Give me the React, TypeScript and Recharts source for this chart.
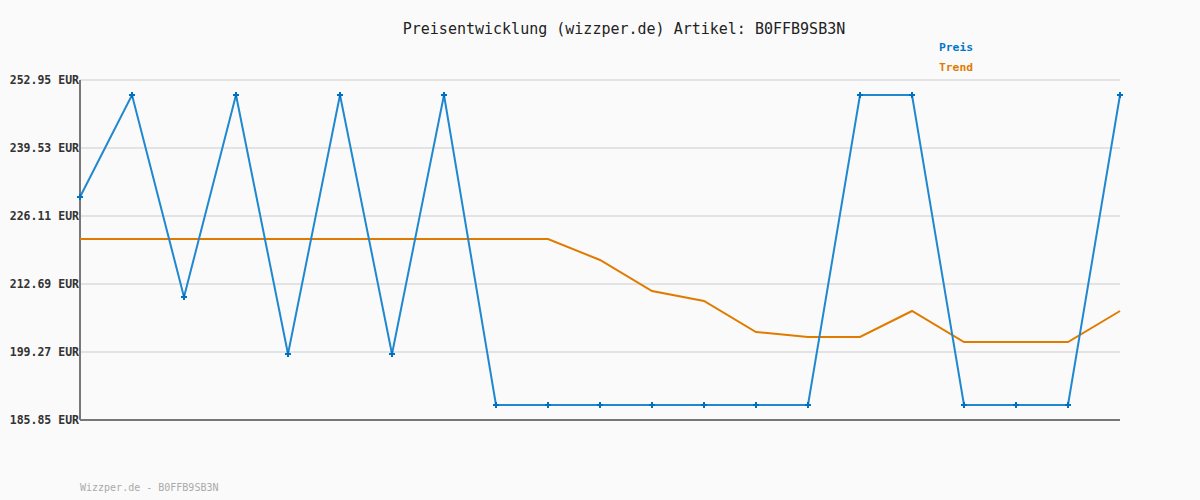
import { CartesianGrid, Line, LineChart, ReferenceLine, XAxis, YAxis } from "recharts";

const indices = [0, 1, 2, 3, 4, 5, 6, 7, 8, 9, 10, 11, 12, 13, 14, 15, 16, 17, 18, 19, 20];
const preis = [
  229.86, 249.99, 210.13, 249.99, 198.88, 249.99, 198.88, 249.99, 188.81, 188.81, 188.81,
  188.81, 188.81, 188.81, 188.81, 249.99, 249.99, 188.81, 188.81, 188.81, 249.99,
];
const trend = [
  221.57, 221.57, 221.57, 221.57, 221.57, 221.57, 221.57, 221.57, 221.57, 221.57, 217.43,
  211.31, 209.34, 203.22, 202.23, 202.23, 207.36, 201.24, 201.24, 201.24, 207.36,
];
const yTicks = [185.85, 199.27, 212.69, 226.11, 239.53, 252.95];

const data = indices.map((i, k) => ({ i, preis: preis[k], trend: trend[k] }));

const mono = "'DejaVu Sans Mono', 'Liberation Mono', monospace";

function CrossDot(props: any) {
  const { cx, cy } = props;
  if (cx == null || cy == null) return null;
  return (
    <g>
      <line x1={cx - 3} y1={cy} x2={cx + 3} y2={cy} stroke="#0070c0" strokeWidth={2} />
      <line x1={cx} y1={cy - 3} x2={cx} y2={cy + 3} stroke="#0070c0" strokeWidth={2} />
    </g>
  );
}

function YTick(props: any) {
  const { x, y, payload } = props;
  return (
    <text
      x={x + 5}
      y={y}
      dy={4}
      textAnchor="end"
      fill="#333"
      fontSize={11.5}
      fontWeight="bold"
      fontFamily={mono}
    >
      {`${Number(payload.value).toFixed(2)} EUR`}
    </text>
  );
}

export default function App() {
  return (
    <div
      style={{
        position: "absolute",
        left: 0,
        top: 0,
        width: 1200,
        height: 500,
        background: "#fafafa",
        fontFamily: mono,
      }}
    >
      <div
        style={{
          position: "absolute",
          top: 20,
          left: 0,
          width: 1248,
          textAlign: "center",
          fontSize: 15,
          color: "#222",
        }}
      >
        Preisentwicklung (wizzper.de) Artikel: B0FFB9SB3N
      </div>
      <div style={{ position: "absolute", left: 939, top: 41, fontSize: 11.3, fontWeight: "bold", color: "#0077c8" }}>
        Preis
      </div>
      <div style={{ position: "absolute", left: 939, top: 61, fontSize: 11.3, fontWeight: "bold", color: "#e07b00" }}>
        Trend
      </div>
      <div style={{ position: "absolute", left: 80, top: 482, fontSize: 10, color: "#aaa" }}>
        Wizzper.de - B0FFB9SB3N
      </div>
      <LineChart width={1200} height={500} data={data} margin={{ top: 80, right: 80, bottom: 80, left: 0 }}>
        <CartesianGrid horizontal vertical={false} stroke="#e3e3e3" strokeWidth={2} />
        <XAxis
          dataKey="i"
          type="number"
          domain={[0, 20]}
          ticks={indices}
          tick={false}
          tickLine={false}
          height={0}
          axisLine={false}
        />
        <YAxis
          type="number"
          domain={[185.85, 252.95]}
          ticks={yTicks}
          width={80}
          tickLine={false}
          axisLine={false}
          tick={<YTick />}
          tickMargin={0}
        />
        <ReferenceLine x={0} stroke="#777" strokeWidth={2} />
        <ReferenceLine y={185.85} stroke="#777" strokeWidth={2} />
        <Line
          dataKey="trend"
          stroke="#e07b00"
          strokeWidth={2}
          dot={false}
          activeDot={false}
          isAnimationActive={false}
        />
        <Line
          dataKey="preis"
          stroke="#1f88d0"
          strokeWidth={2}
          dot={<CrossDot />}
          activeDot={false}
          isAnimationActive={false}
        />
      </LineChart>
    </div>
  );
}
